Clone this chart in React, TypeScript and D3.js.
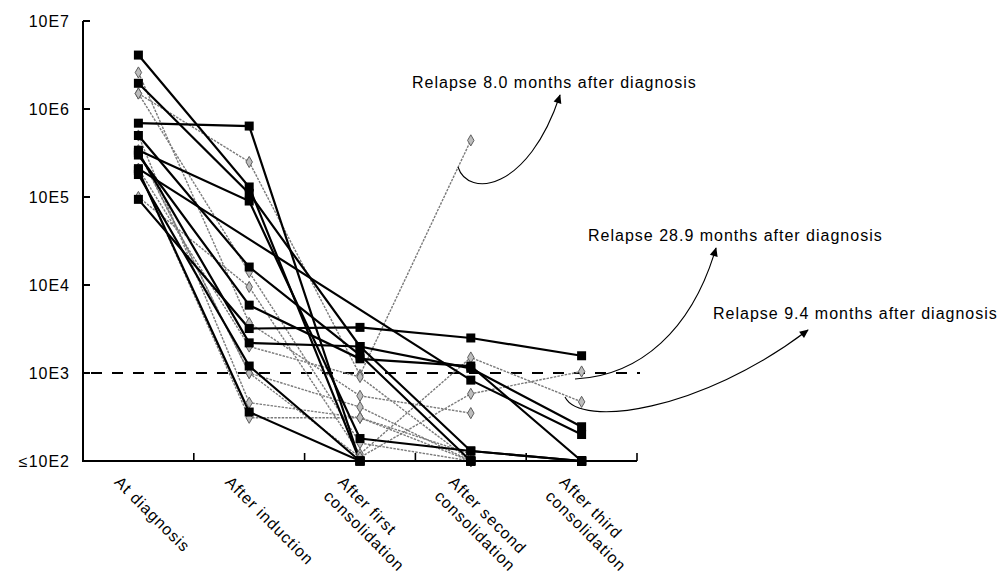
import React from 'react';
import * as d3 from 'd3';

const categories = [
  'At diagnosis',
  'After induction',
  'After first consolidation',
  'After second consolidation',
  'After third consolidation',
];
const categoryLines = [
  ['At diagnosis'],
  ['After induction'],
  ['After first', 'consolidation'],
  ['After second', 'consolidation'],
  ['After third', 'consolidation'],
];
const yTickValues = [1e2, 1e3, 1e4, 1e5, 1e6, 1e7];
const yTickLabels = ['≤10E2', '10E3', '10E4', '10E5', '10E6', '10E7'];
const threshold = 1e3;

// Patients with black squares (solid lines)
const solidSeries: (number | null)[][] = [
  [4.1e6, 1.3e5, 100, 100, 100],
  [1.96e6, 1.1e5, 2.0e3, 1.13e3, 2.45e2],
  [6.9e5, 6.4e5, 100, 100, 100],
  [5.0e5, 1.6e4, 1.6e3, 100, 100],
  [3.4e5, 9.0e4, 1.8e2, 1.3e2, 100],
  [3.0e5, 5.9e3, 1.45e3, 1.2e3, 100],
  [2.1e5, null, null, 8.3e2, 2.0e2],
  [1.8e5, 1.2e3, 100, 100, 100],
  [2.0e5, 3.6e2, 100, 100, 100],
  [9.4e4, 3.2e3, 3.3e3, 2.5e3, 1.57e3],
  [3.2e5, 2.2e3, 2.0e3, 1.3e2, 100],
];

// Patients with grey diamonds (dotted lines)
const dottedSeries: (number | null)[][] = [
  [2.6e6, 3.7e3, 5.5e2, 3.5e2, null],
  [1.5e6, 2.5e5, 9.5e2, 4.4e5, null],
  [1.5e6, 1.4e4, 1.6e2, 100, null],
  [1.0e5, 9.5e3, 1.2e2, 1.5e3, 4.7e2],
  [3.3e5, 1.0e3, 1.1e2, 5.8e2, 1.04e3],
  [5.0e5, 4.6e2, 3.1e2, 100, null],
  [2.0e5, 3.1e2, 3.1e2, 1.2e2, null],
  [2.1e5, 2.0e3, 9.0e2, 100, null],
  [3.4e5, 1.0e3, 4.1e2, 100, null],
];

const relapseLabels = [
  'Relapse 8.0 months after diagnosis',
  'Relapse 28.9 months after diagnosis',
  'Relapse 9.4 months after diagnosis',
];

const W = 1008;
const H = 581;
const FONT = "'Liberation Sans', Arial, Helvetica, sans-serif";

export default function App() {
  const x = d3.scaleBand<string>().domain(categories).range([83, 637]);
  const y = d3.scaleLog().domain([100, 1e7]).range([461, 21]);
  const cx = (i: number) => (x(categories[i]) as number) + x.bandwidth() / 2;
  const line = d3
    .line<[number, number]>()
    .x((d) => d[0])
    .y((d) => d[1]);

  const toPts = (s: (number | null)[]) =>
    s
      .map((v, i) => (v == null ? null : ([cx(i), y(v)] as [number, number])))
      .filter((p): p is [number, number] => p !== null);

  const [x0, x1] = x.range();
  const yBottom = y(100);
  const yTop = y(1e7);

  const diamond = d3.symbol().type(d3.symbolDiamond).size(36)() as string;

  const textStyle: React.CSSProperties = {
    fontFamily: FONT,
    fontSize: 16,
    letterSpacing: 1,
  };

  // annotation curves (start near the relapse points, end with arrowhead)
  const relapseCurves = [
    { d: 'M458,167 C468,198 528,192 560,95', tx: 412, ty: 88 },
    { d: 'M575,379 C640,376 692,330 716,248', tx: 588, ty: 241 },
    { d: 'M565,397 C580,428 700,412 808,330', tx: 713, ty: 319 },
  ];

  return (
    <svg
      width={W}
      height={H}
      style={{ position: 'absolute', left: 0, top: 0, background: '#fff', display: 'block' }}
    >
      <defs>
        <marker
          id="arrow"
          viewBox="0 0 10 10"
          refX="9"
          refY="5"
          markerWidth="11"
          markerHeight="9"
          markerUnits="userSpaceOnUse"
          orient="auto"
        >
          <path d="M0,0.5 L10,5 L0,9.5 z" fill="#000" />
        </marker>
      </defs>
      <rect x={0} y={0} width={W} height={H} fill="#fff" />

      {/* threshold dashed line */}
      <line
        x1={x0 + 8}
        x2={x1 + 3}
        y1={y(threshold)}
        y2={y(threshold)}
        stroke="#000"
        strokeWidth={2}
        strokeDasharray="11,10"
      />

      {/* dotted grey series */}
      {dottedSeries.map((s, k) => (
        <path
          key={'dl' + k}
          d={line(toPts(s)) as string}
          fill="none"
          stroke="#7a7a7a"
          strokeWidth={1.4}
          strokeDasharray="2.5,1.2"
        />
      ))}

      {/* solid black series */}
      {solidSeries.map((s, k) => (
        <path
          key={'sl' + k}
          d={line(toPts(s)) as string}
          fill="none"
          stroke="#000"
          strokeWidth={2.2}
        />
      ))}

      {/* diamonds */}
      {dottedSeries.map((s, k) =>
        toPts(s).map((p, j) => (
          <path
            key={'dm' + k + '-' + j}
            d={diamond}
            transform={`translate(${p[0]},${p[1]})`}
            fill="#bdbdbd"
            stroke="#5e5e5e"
            strokeWidth={1}
          />
        ))
      )}

      {/* squares */}
      {solidSeries.map((s, k) =>
        toPts(s).map((p, j) => (
          <rect
            key={'sq' + k + '-' + j}
            x={p[0] - 4.5}
            y={p[1] - 4.5}
            width={9}
            height={9}
            fill="#000"
          />
        ))
      )}

      {/* axes */}
      <line x1={x0} x2={x0} y1={yTop} y2={yBottom} stroke="#000" strokeWidth={2} />
      <line x1={x0 - 1} x2={x1} y1={yBottom} y2={yBottom} stroke="#000" strokeWidth={2} />
      {yTickValues.map((v, i) =>
        i === 0 ? null : (
          <line key={'yt' + i} x1={x0} x2={x0 + 7} y1={y(v)} y2={y(v)} stroke="#000" strokeWidth={2} />
        )
      )}
      {categories.map((c, i) => {
        const tx = (x(c) as number) + x.bandwidth();
        return (
          <line key={'xt' + i} x1={tx} x2={tx} y1={yBottom} y2={yBottom - 8} stroke="#000" strokeWidth={1.6} />
        );
      })}
      {yTickValues.map((v, i) => (
        <text
          key={'yl' + i}
          x={x0 - 13}
          y={y(v)}
          dy="0.36em"
          textAnchor="end"
          style={textStyle}
        >
          {yTickLabels[i]}
        </text>
      ))}
      {categoryLines.map((lines, i) => {
        const c = cx(i);
        const ox = lines.length === 1 ? c - 25 : c - 23;
        return (
          <text key={'xl' + i} transform={`translate(${ox},${483}) rotate(45)`} style={textStyle}>
            {lines.map((t, j) => (
              <tspan key={j} x={0} dy={j === 0 ? 0 : 20}>
                {t}
              </tspan>
            ))}
          </text>
        );
      })}

      {/* relapse annotations */}
      {relapseCurves.map((r, i) => (
        <g key={'rc' + i}>
          <path d={r.d} fill="none" stroke="#000" strokeWidth={1.1} markerEnd="url(#arrow)" />
          <text x={r.tx} y={r.ty} style={textStyle}>
            {relapseLabels[i]}
          </text>
        </g>
      ))}
    </svg>
  );
}
